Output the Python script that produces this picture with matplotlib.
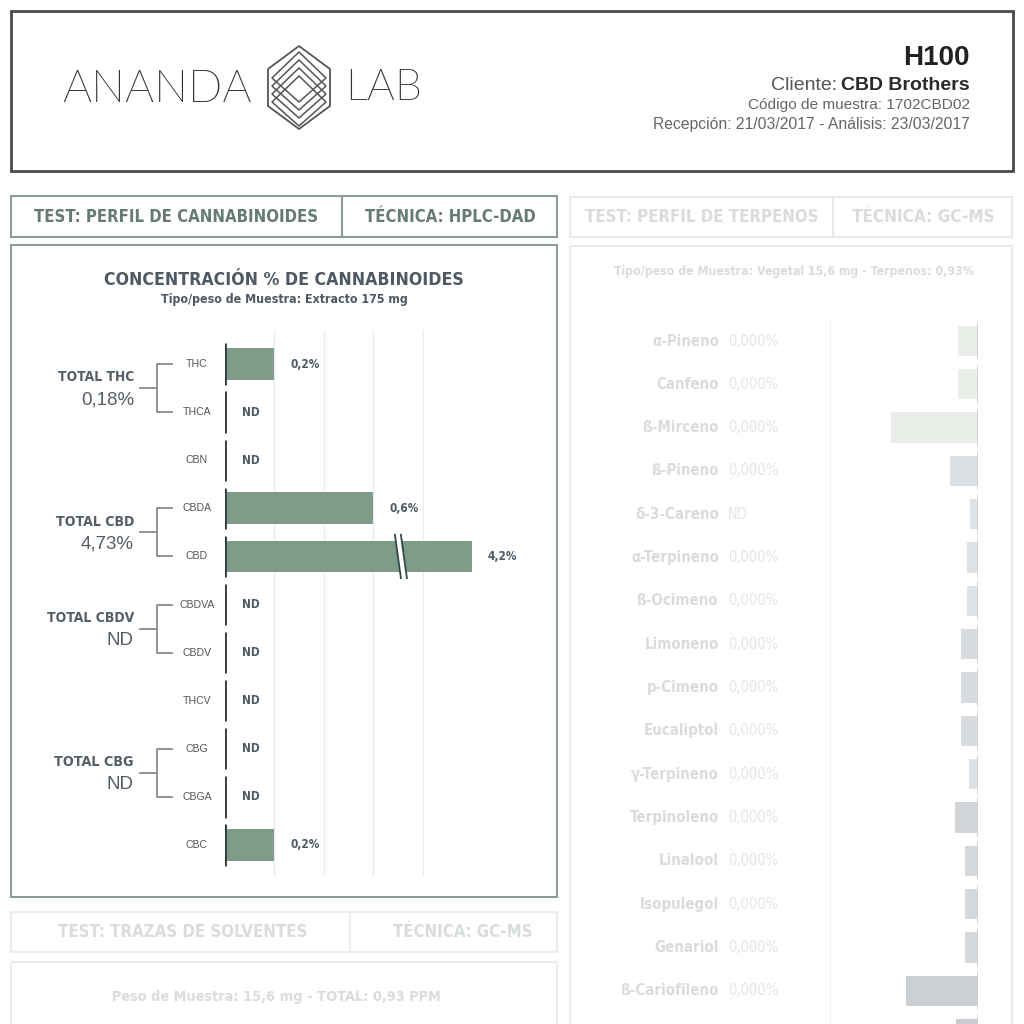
import matplotlib
matplotlib.use('Agg')
import matplotlib.pyplot as plt
from matplotlib.patches import Rectangle, Polygon
from matplotlib import font_manager
from matplotlib.font_manager import FontProperties

# ---------------- data ----------------
cann_labels = ['THC', 'THCA', 'CBN', 'CBDA', 'CBD', 'CBDVA', 'CBDV', 'THCV', 'CBG', 'CBGA', 'CBC']
cann_values = [0.2, 0.0, 0.0, 0.6, 4.2, 0.0, 0.0, 0.0, 0.0, 0.0, 0.2]
cann_texts = ['0,2%', 'ND', 'ND', '0,6%', '4,2%', 'ND', 'ND', 'ND', 'ND', 'ND', '0,2%']
cann_axis_max = 1.0
cann_grid = [0.2, 0.4, 0.6, 0.8, 1.0]
group_names = ['TOTAL THC', 'TOTAL CBD', 'TOTAL CBDV', 'TOTAL CBG']
group_totals = ['0,18%', '4,73%', 'ND', 'ND']
group_rows = [(0, 1), (3, 4), (5, 6), (8, 9)]

terp_labels = ['α-Pineno', 'Canfeno', 'ß-Mirceno', 'ß-Pineno', 'δ-3-Careno', 'α-Terpineno',
               'ß-Ocimeno', 'Limoneno', 'p-Cimeno', 'Eucaliptol', 'γ-Terpineno', 'Terpinoleno',
               'Linalool', 'Isopulegol', 'Genariol', 'ß-Cariofileno', '']
terp_texts = ['0,000%', '0,000%', '0,000%', '0,000%', 'ND', '0,000%', '0,000%', '0,000%',
              '0,000%', '0,000%', '0,000%', '0,000%', '0,000%', '0,000%', '0,000%', '0,000%', '']
terp_bars = [20, 20, 87, 28, 8, 11, 11, 17, 17, 17, 9, 23, 13, 13, 13, 72, 22]


# ---------------- fonts ----------------
def _w(f):
    w = f.weight
    if isinstance(w, str):
        w = font_manager.weight_dict.get(w, 400)
    return int(w)


def _is_cond(f):
    st = str(f.stretch).lower()
    fn = f.fname.lower()
    return ('condensed' in st or 'narrow' in f.name.lower() or 'condensed' in f.name.lower()
            or 'condensed' in fn or 'narrow' in fn)


def _normal_style(f):
    fn = f.fname.lower()
    return f.style == 'normal' and 'oblique' not in fn and 'italic' not in fn


def find_font(cond, wmin, wmax, prefs, fallback):
    cands = [f for f in font_manager.fontManager.ttflist
             if _normal_style(f) and wmin <= _w(f) <= wmax and (_is_cond(f) == cond)]
    for p in prefs:
        for f in cands:
            if f.name.startswith(p):
                return FontProperties(fname=f.fname)
    if cands and cond:
        return FontProperties(fname=cands[0].fname)
    return FontProperties(**fallback)


FP_CB = find_font(True, 600, 900, ['Liberation Sans', 'DejaVu Sans', 'Roboto', 'Noto Sans', 'Open Sans'],
                  dict(family='Liberation Sans', weight='bold'))
FP_CR = find_font(True, 400, 500, ['Liberation Sans', 'DejaVu Sans', 'Roboto', 'Noto Sans', 'Open Sans'],
                  dict(family='Liberation Sans'))
FP_LIGHT = find_font(False, 100, 300, ['Lato', 'Roboto', 'Open Sans', 'Inter', 'Noto Sans', 'DejaVu Sans'],
                     dict(family='Liberation Sans'))
SANS = 'Liberation Sans'

fig = plt.figure(figsize=(10.24, 10.24), dpi=100)
fig.patch.set_facecolor('white')

bg = fig.add_axes([0, 0, 1, 1])
bg.set_xlim(0, 1024)
bg.set_ylim(1024, 0)
bg.axis('off')

fit_list = []


def T(axis, x, y, s, fp=None, size=10, target=None, **kw):
    if fp is not None:
        t = axis.text(x, y, s, fontproperties=fp.copy(), **kw)
        t.set_fontsize(size)
    else:
        t = axis.text(x, y, s, fontsize=size, **kw)
    if target:
        fit_list.append((t, target))
    return t


def box(x0, y0, x1, y1, ec, lw=1.5):
    bg.add_patch(Rectangle((x0, y0), x1 - x0, y1 - y0, fill=False, ec=ec, lw=lw))


# ---------------- header ----------------
box(11, 11, 1013, 171, '#4a4a4a', 2)
T(bg, 62, 89, 'ANANDA', FP_LIGHT, 36, 190, color='#333333', va='center', ha='left')
T(bg, 345, 89, 'LAB', FP_LIGHT, 36, 77, color='#333333', va='center', ha='left')
hexagon = Polygon([(299, 46), (330, 69), (330, 106), (299, 129), (268, 106), (268, 69)],
                  closed=True, fill=False, ec='#555555', lw=1.3, joinstyle='round')
bg.add_patch(hexagon)
for dy in (-10, -2, 6, 14):
    d = Polygon([(299, 62 + dy), (326, 88 + dy), (299, 112 + dy), (272, 88 + dy)], closed=True,
                fill=False, ec='#555555', lw=1.1, joinstyle='round')
    bg.add_patch(d)
    d.set_clip_path(hexagon)

T(bg, 970, 58, 'H100', None, 20, family=SANS, fontweight='bold', color='#222222',
  ha='right', va='center')
t_cb = T(bg, 970, 85, 'CBD Brothers', None, 14, family=SANS, fontweight='bold',
         color='#2a2a2a', ha='right', va='center')
T(bg, 970, 105, 'Código de muestra: 1702CBD02', None, 10.5, 225, family=SANS, color='#666666',
  ha='right', va='center')
T(bg, 970, 125, 'Recepción: 21/03/2017 - Análisis: 23/03/2017', None, 10.5, 320, family=SANS,
  color='#666666', ha='right', va='center')

# ---------------- cannabinoid section frames ----------------
C_EDGE = '#8e9c98'
C_HEAD = '#667b76'
box(11, 196, 557, 237, C_EDGE)
bg.plot([342, 342], [196, 237], color=C_EDGE, lw=1.5)
T(bg, 176, 217, 'TEST: PERFIL DE CANNABINOIDES', FP_CB, 14, 285, color=C_HEAD,
  ha='center', va='center')
T(bg, 450, 217, 'TÉCNICA: HPLC-DAD', FP_CB, 14, 171, color=C_HEAD, ha='center', va='center')
box(11, 245, 557, 897, C_EDGE)
T(bg, 284, 280, 'CONCENTRACIÓN % DE CANNABINOIDES', FP_CB, 14.5, 358, color='#4f5963',
  ha='center', va='center')
T(bg, 284, 300, 'Tipo/peso de Muestra: Extracto 175 mg', FP_CB, 9, 247, color='#4f5963',
  ha='center', va='center')

# ---------------- terpene section (faded) ----------------
T_EDGE = '#e8eaea'
T_TXT = '#d9dcdd'
box(570, 197, 1012, 237, T_EDGE)
bg.plot([833, 833], [197, 237], color=T_EDGE, lw=1.5)
T(bg, 702, 217, 'TEST: PERFIL DE TERPENOS', FP_CB, 14, 235, color=T_TXT, ha='center', va='center')
T(bg, 923, 217, 'TÉCNICA: GC-MS', FP_CB, 14, 143, color=T_TXT, ha='center', va='center')
box(570, 246, 1012, 1040, T_EDGE)
T(bg, 794, 272, 'Tipo/peso de Muestra: Vegetal 15,6 mg - Terpenos: 0,93%', FP_CB, 9, 362,
  color=T_TXT, ha='center', va='center')

# ---------------- solvent section (faded) ----------------
S_EDGE = '#ececec'
box(11, 912, 557, 952, S_EDGE)
bg.plot([350, 350], [912, 952], color=S_EDGE, lw=1.5)
T(bg, 183, 932, 'TEST: TRAZAS DE SOLVENTES', FP_CB, 14, 250, color=T_TXT, ha='center', va='center')
T(bg, 463, 932, 'TÉCNICA: GC-MS', FP_CB, 14, 140, color=T_TXT, ha='center', va='center')
box(11, 962, 557, 1040, S_EDGE)
T(bg, 276, 997, 'Peso de Muestra: 15,6 mg - TOTAL: 0,93 PPM', FP_CB, 11, 328, color=T_TXT,
  ha='center', va='center')

# ---------------- cannabinoid bar chart ----------------
X0, X1 = 225, 472      # pixel positions of 0 and axis max
Y0, Y1 = 330, 876      # pixel extent of axes
ROW0, ROWSP = 364, 48.1
ax = fig.add_axes([X0 / 1024, 1 - Y1 / 1024, (X1 - X0) / 1024, (Y1 - Y0) / 1024])
ax.set_xlim(0, cann_axis_max)
ax.set_ylim((Y1 - ROW0) / ROWSP, (Y0 - ROW0) / ROWSP)
ax.set_facecolor('none')
for s in ax.spines.values():
    s.set_visible(False)
ax.set_xticks(cann_grid)
ax.set_yticks([])
ax.tick_params(axis='x', length=0, labelbottom=False)
ax.grid(axis='x', color='#ececec', lw=1)
ax.set_axisbelow(True)


def px2x(px):
    return (px - X0) / (X1 - X0) * cann_axis_max


BAR = '#7f9b89'
rows = list(range(len(cann_labels)))
shown = [min(v, cann_axis_max) for v in cann_values]
ax.barh(rows, shown, height=0.66, color=BAR, zorder=2)
ax.vlines([0] * len(rows), [r - 0.43 for r in rows], [r + 0.43 for r in rows],
          color='#2f3a36', lw=2, zorder=3)
for r, lab, v, txt in zip(rows, cann_labels, shown, cann_texts):
    T(ax, px2x(197), r, lab, None, 7.6, family=SANS, color='#555555', ha='center',
      va='center', clip_on=False)
    xt = v + px2x(X0 + 16) if v > 0 else px2x(242)
    T(ax, xt, r, txt, FP_CB, 8.5, color='#4f5963', ha='left', va='center', clip_on=False)

# axis break on truncated bars
for r, v in zip(rows, cann_values):
    if v > cann_axis_max:
        bx = cann_axis_max * 0.70
        dx = px2x(X0 + 3)
        g = px2x(X0 + 6)
        ax.add_patch(Polygon([(bx - dx, r - 0.45), (bx - dx + g, r - 0.45),
                              (bx + dx + g, r + 0.45), (bx + dx, r + 0.45)],
                             closed=True, fc='white', ec='none', zorder=4))
        for off in (0, g):
            ax.plot([bx - dx + off, bx + dx + off], [r - 0.45, r + 0.45], color='#2f4a42',
                    lw=1.3, zorder=5)

# group brackets
BR = '#8a8a8a'
name_w = {'TOTAL THC': 76, 'TOTAL CBD': 78, 'TOTAL CBDV': 87, 'TOTAL CBG': 80}
for name, tot, (a, b) in zip(group_names, group_totals, group_rows):
    xv, xe, xm = px2x(157), px2x(172), px2x(140)
    ax.plot([xe, xv, xv, xe], [a, a, b, b], color=BR, lw=1.3, clip_on=False)
    mid = (a + b) / 2
    ax.plot([xm, xv], [mid, mid], color=BR, lw=1.3, clip_on=False)
    T(ax, px2x(134), mid - 0.22, name, FP_CB, 12, name_w.get(name), color='#555e66',
      ha='right', va='center', clip_on=False)
    T(ax, px2x(134), mid + 0.25, tot, None, 13.5, family=SANS, color='#555e66',
      ha='right', va='center', clip_on=False)

# ---------------- terpene bar chart (faded) ----------------
TX0, TX1 = 830, 978
TY0, TY1 = 320, 1024
TROW0, TROWSP = 341, 43.33
tx = fig.add_axes([TX0 / 1024, 1 - TY1 / 1024, (TX1 - TX0) / 1024, (TY1 - TY0) / 1024])
tx.set_xlim(TX1 - TX0, 0)
tx.set_ylim((TY1 - TROW0) / TROWSP, (TY0 - TROW0) / TROWSP)
tx.set_facecolor('none')
for k, s in tx.spines.items():
    s.set_visible(k == 'left')
tx.spines['left'].set_color('#f4efef')
tx.set_xticks([])
tx.set_yticks([])
trows = list(range(len(terp_labels)))
terp_colors = ['#e9eee9', '#e9eee9', '#e9eee9', '#dde0e2', '#e0e3e5', '#dfe2e4', '#dfe2e4',
               '#d9dcdf', '#d9dcdf', '#d9dcdf', '#dfe2e4', '#d3d6d9', '#d6d9dc', '#d6d9dc',
               '#d6d9dc', '#cdd0d3', '#c9ccd0']
tx.barh(trows, terp_bars, height=0.7, color=terp_colors, zorder=2)
tx.vlines([0] * len(trows), [r - 0.45 for r in trows], [r + 0.45 for r in trows],
          color='#cfcfcf', lw=1.2, zorder=3)
for r, lab, txt in zip(trows, terp_labels, terp_texts):
    if lab:
        T(tx, TX1 - 719, r, lab, FP_CB, 10.8, color='#d9dbdd', ha='right', va='center',
          clip_on=False)
    if txt:
        T(tx, TX1 - 728, r, txt, FP_CR, 10.5, color='#e4e5e6', ha='left', va='center',
          clip_on=False)

# fit selected texts to the widths measured on the reference
fig.canvas.draw()
ren = fig.canvas.get_renderer()
for t, w in fit_list:
    cur = t.get_window_extent(ren).width
    if cur > 0:
        t.set_fontsize(t.get_fontsize() * w / cur)

# "Cliente:" placed just left of the bold client name
fig.canvas.draw()
bb = t_cb.get_window_extent(ren)
x_left = bg.transData.inverted().transform((bb.x0, bb.y0))[0]
T(bg, x_left - 4, 85, 'Cliente:', None, 14, family=SANS, color='#555555',
  ha='right', va='center')

fig.savefig('out.png', dpi=100, facecolor='white')
